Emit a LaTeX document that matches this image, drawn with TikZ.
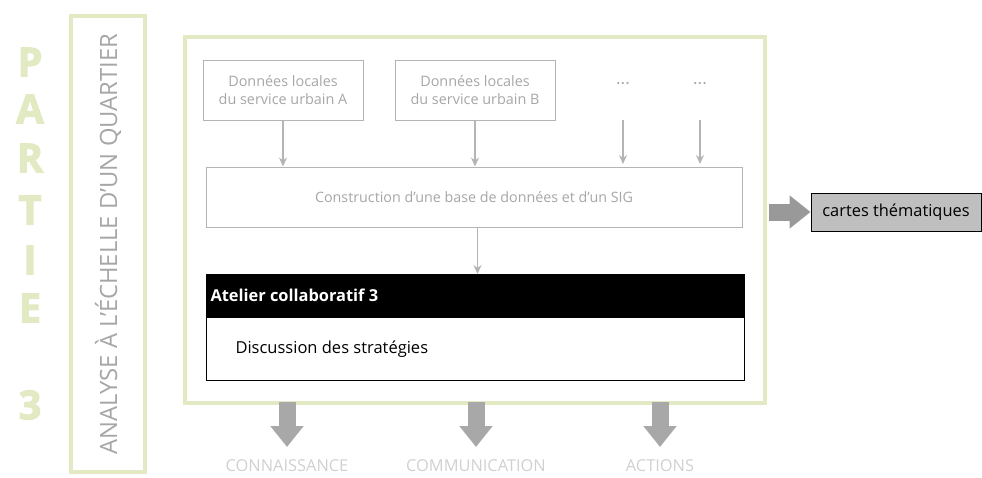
\documentclass[tikz,border=0pt]{standalone}
\usepackage{fontspec}
\setmainfont{Open Sans}
\newfontfamily\partfont{Open Sans}[BoldFeatures={FakeBold=2.5}]
\usetikzlibrary{arrows.meta,positioning}
\definecolor{cgreen}{HTML}{E2EAC4}
\definecolor{cline}{HTML}{B4B4B4}
\definecolor{ctext}{HTML}{A6A6A6}
\definecolor{cfat}{HTML}{A8A8A8}
\definecolor{cout}{HTML}{D0D0D0}
\tikzset{
  every picture/.style={>=Latex, x=1pt, y=-1pt},
  databox/.style={draw=cline, line width=1pt, text=ctext, align=center,
    font=\fontsize{14.4}{17.5}\selectfont, minimum width=160pt, minimum height=60pt},
  thin/.style={->, cline, line width=1.2pt, >={Stealth[length=9pt,width=8pt]}},
  fat/.style={cfat, line width=17pt, -{Triangle[length=21pt,width=32pt]}},
  outlabel/.style={text=cout, inner sep=0pt, anchor=base, font=\fontsize{16.4}{20}\selectfont},
  partletter/.style={text=cgreen, font=\partfont\fontsize{40}{40}\bfseries\selectfont},
}
\begin{document}
\begin{tikzpicture}
  \path[use as bounding box] (0,0) rectangle (982,477);
  % PARTIE 3
  \foreach \ch/\yy in {P/62,A/109,R/158,T/210,I/260,E/308,3/405}
    \node[partletter] at (30,\yy) {\ch};
  % side title
  \node[draw=cgreen, line width=4pt, minimum width=74pt, minimum height=456pt] (side) at (108,244) {};
  \node[rotate=90, text=ctext, font=\fontsize{23.8}{28}\selectfont] at (side.center) {ANALYSE À L’ÉCHELLE D’UN QUARTIER};
  % main frame
  \node[draw=cgreen, line width=4pt, minimum width=580pt, minimum height=366pt] (frame) at (475,220) {};
  \node[databox] (srcA) at (283,90) {Données locales\\du service urbain A};
  \node[databox] (srcB) at (475,90) {Données locales\\du service urbain B};
  \node[text=ctext, font=\fontsize{17}{17}\selectfont] (dotsA) at (623,86) {···};
  \node[text=ctext, font=\fontsize{17}{17}\selectfont] (dotsB) at (700,86) {···};
  \node[draw=cline, line width=1pt, text=ctext, font=\fontsize{14.3}{17}\selectfont,
    minimum width=536pt, minimum height=60pt] (sig) at (474,197) {Construction d’une base de données et d’un SIG};
  \draw[thin] (srcA.south) -- (srcA.south |- sig.north);
  \draw[thin] (srcB.south) -- (srcB.south |- sig.north);
  \draw[thin] (623,120) -- (623,164);
  \draw[thin] (700,120) -- (700,164);
  % atelier
  \node[draw=black, fill=black, line width=1pt, minimum width=538pt, minimum height=42pt,
    anchor=north west] (head) at (206,274) {};
  \node[anchor=west, text=white, font=\fontsize{16.4}{19}\bfseries\selectfont] at ([xshift=1pt]head.west) {Atelier collaboratif 3};
  \node[draw=black, line width=1pt, minimum width=538pt, minimum height=63pt,
    anchor=north] (body) at (head.south) {};
  \node[anchor=west, font=\fontsize{16.5}{19}\selectfont] at ([xshift=26pt]body.west) {Discussion des stratégies};
  \draw[thin] (sig.south -| head.north) ++(2,0) -- ([xshift=2pt]head.north);
  % outputs
  \node[draw=black, fill=gray!50, line width=1pt, minimum width=170pt, minimum height=38pt,
    font=\fontsize{16.4}{19}\selectfont] (maps) at (896,212) {cartes thématiques};
  \draw[fat, color=gray!80] (frame.east |- maps.west) ++(2,0) -- (maps.west);
  \foreach \xx/\lab/\nm in {287/CONNAISSANCE/know, 476/COMMUNICATION/comm, 660/ACTIONS/act} {
    \node[outlabel] (\nm) at (\xx,471) {\lab};
    \draw[fat] (\xx,402) -- (\xx,447);
  }
\end{tikzpicture}
\end{document}
